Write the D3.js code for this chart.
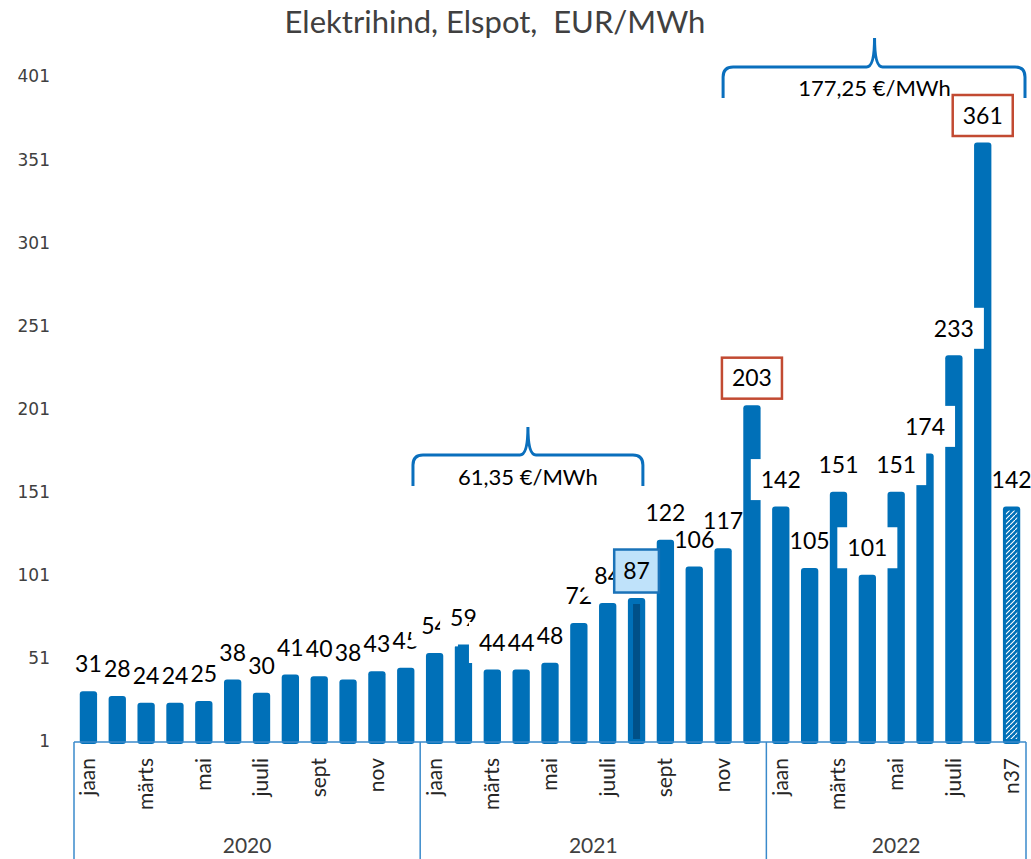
<!DOCTYPE html>
<html lang="et">
<head>
<meta charset="UTF-8">
<title>Elektrihind, Elspot</title>
<script src="https://d3js.org/d3.v7.min.js"></script>
<style>
  body { margin: 0; background: #fff; }
  svg { display: block; }
  .lbl { font-family: Lato, sans-serif; font-size: 23px; fill: #000; }
</style>
</head>
<body>
<div id="chart"></div>
<script>
// data (monthly average, EUR/MWh)
const years = ["2020", "2021", "2022"];
const months2020 = ["jaan","veebr","märts","apr","mai","juuni","juuli","aug","sept","okt","nov","dets"];
const months2021 = ["jaan","veebr","märts","apr","mai","juuni","juuli","aug","sept","okt","nov","dets"];
const months2022 = ["jaan","veebr","märts","apr","mai","juuni","juuli","aug","n37"];
const values2020 = [31, 28, 24, 24, 25, 38, 30, 41, 40, 38, 43, 45];
const values2021 = [54, 59, 44, 44, 48, 72, 84, 87, 122, 106, 117, 203];
const values2022 = [142, 105, 151, 101, 151, 174, 233, 361, 142];
const yTicks = [1, 51, 101, 151, 201, 251, 301, 351, 401];
const bracketTexts = ["61,35 €/MWh", "177,25 €/MWh"];

// flatten into one category list
const rows = [];
[[months2020, values2020], [months2021, values2021], [months2022, values2022]].forEach(([m, v], g) => {
  m.forEach((name, k) => rows.push({ year: years[g], month: name, k: k, value: v[k] }));
});

const W = 1031, H = 859;
const blue = "#0070b8";
const lineBlue = "#3a8acb";

// which labels carry a white box / highlight frame
const boxedIdx = [12, 13, 14, 18, 24, 27, 28, 29, 30];
const redIdx = [23, 31];
const blueIdx = [19];
const hatchIdx = rows.length - 1;
const darkStripeIdx = 19;

const svg = d3.select("#chart").append("svg")
  .attr("width", W).attr("height", H);

const defs = svg.append("defs");
const pat = defs.append("pattern")
  .attr("id", "hatch").attr("patternUnits", "userSpaceOnUse")
  .attr("width", 5).attr("height", 5);
pat.append("rect").attr("width", 5).attr("height", 5).attr("fill", blue);
pat.append("path").attr("d", "M-1,6 L6,-1").attr("stroke", "#fff").attr("stroke-width", 1.1);

const x = d3.scaleBand()
  .domain(d3.range(rows.length))
  .range([74, 1026])
  .paddingInner(0.4)
  .paddingOuter(0.2);

const y = d3.scaleLinear().domain([1, 401]).range([741, 76]);

// title
svg.append("text")
  .attr("x", 495).attr("y", 33)
  .attr("text-anchor", "middle")
  .style("white-space", "pre")
  .attr("font-family", "Lato, sans-serif")
  .attr("font-size", 31)
  .attr("fill", "#404040")
  .text("Elektrihind, Elspot,  EUR/MWh");

// y axis labels (no line, no grid)
const yAxis = d3.axisLeft(y).tickValues(yTicks).tickSize(0).tickPadding(0);
svg.append("g")
  .attr("transform", "translate(50,0)")
  .call(yAxis)
  .call(g => g.select(".domain").remove())
  .selectAll("text")
  .attr("font-family", "'DejaVu Sans', sans-serif")
  .attr("font-size", 17)
  .attr("fill", "#404040")
  .attr("dy", "0.35em");

// bars
const bars = svg.append("g");
rows.forEach((d, i) => {
  const top = y(d.value);
  bars.append("rect")
    .attr("x", x(i)).attr("y", top)
    .attr("width", x.bandwidth())
    .attr("height", y(1) - top + 3)
    .attr("rx", 3)
    .attr("fill", blue);
  if (i === hatchIdx) {
    bars.append("rect")
      .attr("x", x(i) + 3).attr("y", top + 4)
      .attr("width", x.bandwidth() - 6)
      .attr("height", y(1) - top - 6)
      .attr("fill", "url(#hatch)");
  }
  if (i === darkStripeIdx) {
    bars.append("rect")
      .attr("x", x(i) + x.bandwidth() / 2 - 3.5).attr("y", top + 6)
      .attr("width", 7)
      .attr("height", y(1) - top - 8)
      .attr("fill", "#005088");
  }
});

// x axis line + group separators
const axisG = svg.append("g");
axisG.append("line")
  .attr("x1", x.range()[0]).attr("x2", x.range()[1])
  .attr("y1", y(1) + 1).attr("y2", y(1) + 1)
  .attr("stroke", lineBlue).attr("stroke-width", 1.5);

const step = x.step();
const groupStarts = [0, 12, 24, rows.length];
groupStarts.forEach(s => {
  const gx = x.range()[0] + s * step;
  axisG.append("line")
    .attr("x1", gx).attr("x2", gx)
    .attr("y1", y(1) + 1).attr("y2", H)
    .attr("stroke", lineBlue).attr("stroke-width", 1.5);
});

// month labels (every other)
rows.forEach((d, i) => {
  if (d.k % 2 !== 0) return;
  const cx = x(i) + x.bandwidth() / 2;
  axisG.append("text")
    .attr("transform", `translate(${cx},758) rotate(-90)`)
    .attr("text-anchor", "end")
    .attr("dy", "0.33em")
    .attr("font-family", "Lato, sans-serif")
    .attr("font-size", 21)
    .attr("fill", "#262626")
    .text(d.month);
});

// year labels
years.forEach((yr, g) => {
  const x0 = x.range()[0] + groupStarts[g] * step;
  const x1 = x.range()[0] + groupStarts[g + 1] * step;
  axisG.append("text")
    .attr("x", (x0 + x1) / 2).attr("y", 853)
    .attr("text-anchor", "middle")
    .attr("font-family", "Lato, sans-serif")
    .attr("font-size", 21)
    .attr("fill", "#404040")
    .text(yr);
});

// value labels, drawn in order so later boxes cover earlier ones
const labels = svg.append("g");
rows.forEach((d, i) => {
  const cx = x(i) + x.bandwidth() / 2;
  const cy = y(d.value) - 27;
  const g = labels.append("g");
  const box = g.append("rect");
  const t = g.append("text")
    .attr("class", "lbl")
    .attr("x", cx).attr("y", cy)
    .attr("dy", "0.36em")
    .attr("text-anchor", "middle")
    .text(d.value);
  const tw = t.node().getComputedTextLength();
  if (boxedIdx.includes(i) || redIdx.includes(i) || blueIdx.includes(i)) {
    box.attr("x", cx - tw / 2 - 10).attr("y", cy - 20.5)
      .attr("width", tw + 20).attr("height", 41)
      .attr("fill", "#fff");
    if (redIdx.includes(i)) {
      box.attr("stroke", "#c24a32").attr("stroke-width", 2.5);
    }
    if (blueIdx.includes(i)) {
      box.attr("fill", "#bfe2fa").attr("stroke", "#1a72b8").attr("stroke-width", 2.5)
        .attr("x", cx - tw / 2 - 9).attr("width", tw + 18).attr("y", cy - 21.5).attr("height", 43);
    }
  } else {
    box.remove();
  }
});

// braces with average values
const brackets = [
  { from: 11.75, to: 19.72, top: 455, bottom: 486, tip: 427, textY: 485, text: bracketTexts[0] },
  { from: 22.5, to: 33, top: 67, bottom: 98, tip: 38, textY: 96, text: bracketTexts[1] }
];
brackets.forEach(b => {
  const x0 = x.range()[0] + b.from * step;
  const x1 = Math.min(x.range()[0] + b.to * step, W - 6);
  const xm = (x0 + x.range()[0] + b.to * step) / 2;
  const r = 10;
  const p = d3.path();
  p.moveTo(x0, b.bottom);
  p.lineTo(x0, b.top + r);
  p.quadraticCurveTo(x0, b.top, x0 + r, b.top);
  p.lineTo(xm - 8, b.top);
  p.quadraticCurveTo(xm, b.top, xm, b.tip);
  p.moveTo(xm, b.tip);
  p.quadraticCurveTo(xm, b.top, xm + 8, b.top);
  p.lineTo(x1 - r, b.top);
  p.quadraticCurveTo(x1, b.top, x1, b.top + r);
  p.lineTo(x1, b.bottom);
  svg.append("path")
    .attr("d", p.toString())
    .attr("fill", "none")
    .attr("stroke", "#0a6fbd")
    .attr("stroke-width", 3);
  svg.append("text")
    .attr("x", xm).attr("y", b.textY)
    .attr("text-anchor", "middle")
    .attr("font-family", "Lato, sans-serif")
    .attr("font-size", 22)
    .attr("fill", "#000")
    .text(b.text);
});
</script>
</body>
</html>
